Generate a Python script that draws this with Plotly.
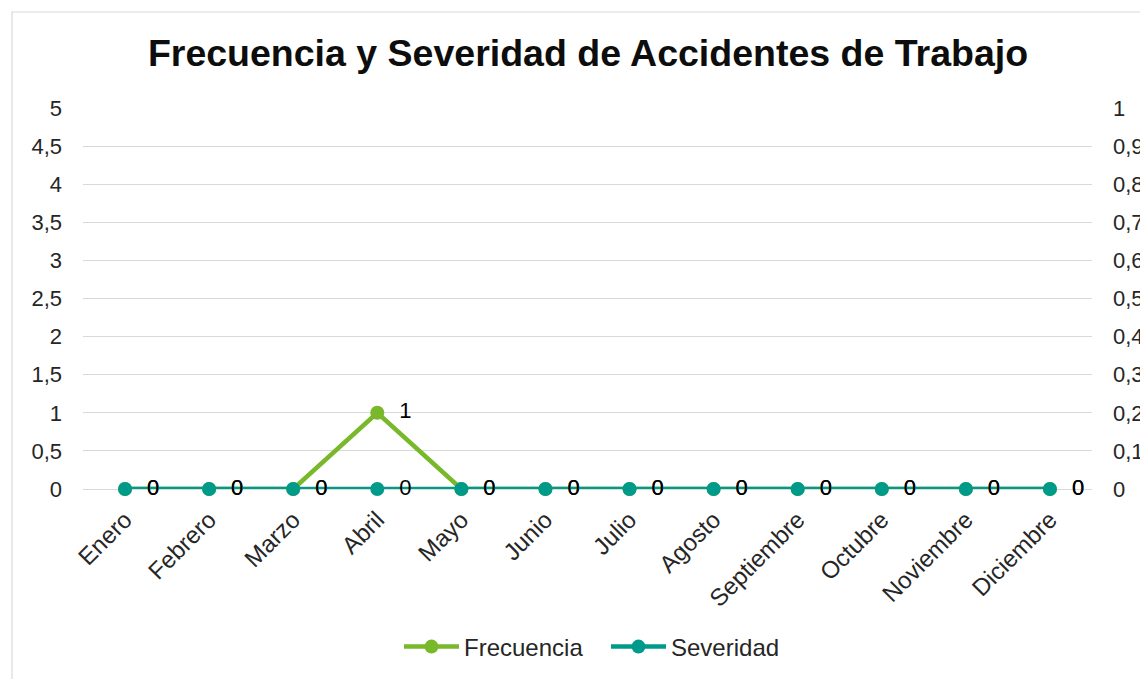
import plotly.graph_objects as go

meses = ["Enero", "Febrero", "Marzo", "Abril", "Mayo", "Junio", "Julio",
         "Agosto", "Septiembre", "Octubre", "Noviembre", "Diciembre"]
frecuencia = [0, 0, 0, 1, 0, 0, 0, 0, 0, 0, 0, 0]
severidad = [0, 0, 0, 0, 0, 0, 0, 0, 0, 0, 0, 0]

VERDE = "#78B82A"
TEAL = "#009A8A"
FONT = "Liberation Sans, Arial, sans-serif"
TXT = "#262626"

OFF = 8  # page body margin
W, H = 1148 - OFF, 679 - OFF
# target screen pixels of the plot area
PX_L, PX_R, PX_T, PX_B = 83, 1092, 108, 489
L, T = PX_L - OFF, PX_T - OFF
R, B = W - (PX_R - OFF), H - (PX_B - OFF)
pw, ph = PX_R - PX_L, PX_B - PX_T

px2x = lambda px: (px - PX_L) / pw
py2y = lambda py: (PX_B - py) / ph

fig = go.Figure()
fig.add_trace(go.Scatter(
    x=meses, y=frecuencia, name="Frecuencia", mode="lines+markers+text",
    line=dict(color=VERDE, width=4.5), marker=dict(color=VERDE, size=14),
    text=["  " + str(v) for v in frecuencia], textposition="middle right",
    textfont=dict(family=FONT, size=22, color="#000000"),
    cliponaxis=False,
))
fig.add_trace(go.Scatter(
    x=meses, y=severidad, name="Severidad", mode="lines+markers+text",
    yaxis="y2",
    line=dict(color=TEAL, width=4.5), marker=dict(color=TEAL, size=14),
    text=["  " + str(v) for v in severidad], textposition="middle right",
    textfont=dict(family=FONT, size=22, color="#000000"),
    cliponaxis=False,
))

fig.add_shape(type="rect", xref="paper", yref="paper",
              x0=px2x(12), x1=px2x(1160), y0=py2y(690), y1=py2y(12),
              line=dict(color="#d9d9d9", width=1.2), fillcolor="rgba(0,0,0,0)",
              layer="below")

fig.update_layout(
    width=W, height=H,
    margin=dict(l=L, r=R, t=T, b=B, autoexpand=False),
    paper_bgcolor="white", plot_bgcolor="white",
    separators=",.",
    font=dict(family=FONT, size=22, color=TXT),
    title=dict(text="<b>Frecuencia y Severidad de Accidentes de Trabajo</b>",
               x=(588 - OFF) / W, xanchor="center", xref="container",
               y=1 - (45) / H, yanchor="middle",
               font=dict(family=FONT, size=37.5, color="#0d0d0d")),
    showlegend=True,
    legend=dict(orientation="h", x=px2x(399), xanchor="left",
                y=py2y(647), yanchor="middle",
                font=dict(family=FONT, size=24, color=TXT),
                itemwidth=55, entrywidth=137, tracegroupgap=0),
    xaxis=dict(type="category", range=[-0.5, 11.5], tickangle=-45,
               showgrid=False, zeroline=False, showline=False,
               ticks="", ticklabelstandoff=11, automargin=False,
               tickfont=dict(family=FONT, size=24, color=TXT)),
    yaxis=dict(range=[0, 5], dtick=0.5, tick0=0,
               showgrid=True, gridcolor="#d9d9d9", gridwidth=1.3,
               zeroline=True, zerolinecolor="#d9d9d9", zerolinewidth=1.3,
               showline=False, ticks="", ticklabelstandoff=20, automargin=False,
               tickfont=dict(family=FONT, size=22, color=TXT)),
    yaxis2=dict(range=[0, 1], dtick=0.1, tick0=0, overlaying="y", side="right",
                showgrid=False, zeroline=False, showline=False, ticks="",
                ticklabelstandoff=20, automargin=False,
                tickfont=dict(family=FONT, size=22, color=TXT)),
)

fig.write_html("out.html")
